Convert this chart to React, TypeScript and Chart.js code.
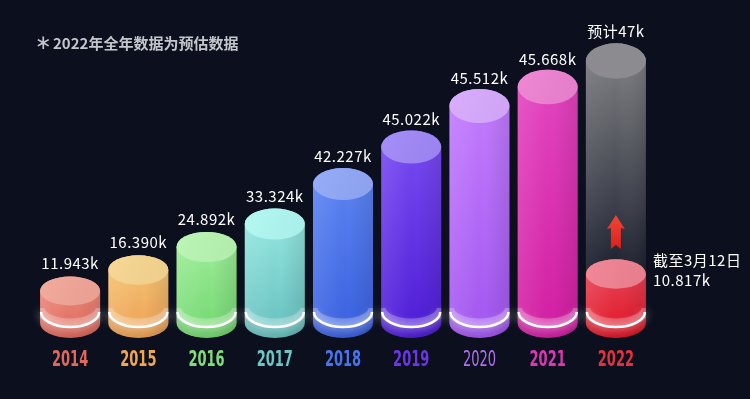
import React, { useEffect, useRef } from 'react';
import { Chart, registerables } from 'chart.js';

Chart.register(...registerables);

// ---- data ----
const years = ['2014', '2015', '2016', '2017', '2018', '2019', '2020', '2021', '2022'];
// drawn column heights (chart units)
const barHeights = [32, 53, 76, 99, 139, 176, 217, 236, 49];
const estimateHeights = [null, null, null, null, null, null, null, null, 262];
const valueLabels = ['11.943k', '16.390k', '24.892k', '33.324k', '42.227k', '45.022k', '45.512k', '45.668k', '10.817k'];
const estimateLabel = '预计47k';
const cutoffLabel = '截至3月12日';
const titleText = '2022年全年数据为预估数据';
const titleStar = '∗';

// ---- styles ----
const yearColors = ['#e2685c', '#f0a850', '#7ede7c', '#6cc6c4', '#4a74ee', '#6a36e6', '#b070f0', '#e036b6', '#e6303e'];
const topColors = ['#f2a698', '#f8d690', '#b8f6b2', '#b0f8f2', '#92a8f8', '#a088f8', '#d8aaff', '#ee82d2', '#f08292'];
const bodyTopColors = ['#ee9484', '#f6c97a', '#a2ef9c', '#98eae4', '#5e86f4', '#7a4cf4', '#c47eff', '#e446c2', '#ea4a5c'];
const bodyBottomColors = ['#e0665a', '#eea052', '#72d870', '#66c0be', '#3a60e0', '#4e1cd6', '#a256f0', '#d21ea2', '#e01426'];

const BG = '#0b0f1e';

function bodyPath(x: number, yTop: number, base: number, rx: number, ryT: number, ryB: number) {
  const p = new Path2D();
  p.moveTo(x - rx, yTop);
  p.lineTo(x - rx, base);
  p.ellipse(x, base, rx, ryB, 0, Math.PI, 0, true);
  p.lineTo(x + rx, yTop);
  p.ellipse(x, yTop, rx, ryT, 0, 0, Math.PI, true);
  p.closePath();
  return p;
}

function drawCylinder(ctx: CanvasRenderingContext2D, el: any, i: number) {
  const x = el.x, yTop = el.y, base = el.base, w = el.width;
  const rx = w / 2;
  const ryB = w * 0.25;
  const h = base - yTop;
  const ryT = 14 + h * 0.014;
  const body = bodyPath(x, yTop, base, rx, ryT, ryB);
  ctx.save();
  const g = ctx.createLinearGradient(0, yTop - ryT, 0, base + ryB);
  g.addColorStop(0, bodyTopColors[i]);
  g.addColorStop(1, bodyBottomColors[i]);
  ctx.fillStyle = g;
  ctx.fill(body);
  const hg = ctx.createLinearGradient(x - rx, 0, x + rx, 0);
  hg.addColorStop(0, 'rgba(255,255,255,0.10)');
  hg.addColorStop(0.35, 'rgba(255,255,255,0.03)');
  hg.addColorStop(0.6, 'rgba(0,0,0,0)');
  hg.addColorStop(1, 'rgba(0,0,0,0.10)');
  ctx.fillStyle = hg;
  ctx.fill(body);

  // glow ring near the bottom
  const yR = base - 11;
  ctx.save();
  ctx.clip(body);
  ctx.beginPath();
  ctx.ellipse(x, yR - 4, rx, ryB, 0, 0, Math.PI, false);
  ctx.strokeStyle = 'rgba(255,255,255,0.24)';
  ctx.lineWidth = 9;
  ctx.stroke();
  ctx.beginPath();
  ctx.ellipse(x, yR + 6, rx, ryB, 0, 0, Math.PI, false);
  ctx.strokeStyle = 'rgba(0,0,0,0.08)';
  ctx.lineWidth = 10;
  ctx.stroke();
  ctx.restore();
  ctx.beginPath();
  ctx.ellipse(x, yR, rx - 1, ryB, 0, 0, Math.PI, false);
  ctx.strokeStyle = '#ffffff';
  ctx.lineWidth = 2.5;
  ctx.shadowColor = 'rgba(255,255,255,0.9)';
  ctx.shadowBlur = 8;
  ctx.stroke();
  ctx.shadowBlur = 0;

  // top face
  ctx.beginPath();
  ctx.ellipse(x, yTop, rx, ryT, 0, 0, Math.PI * 2);
  ctx.fillStyle = topColors[i];
  ctx.fill();
  const tg = ctx.createLinearGradient(x - rx, yTop - ryT, x + rx, yTop + ryT);
  tg.addColorStop(0, 'rgba(255,255,255,0.06)');
  tg.addColorStop(1, 'rgba(0,0,0,0.04)');
  ctx.fillStyle = tg;
  ctx.fill();
  ctx.restore();
}

function drawEstimate(ctx: CanvasRenderingContext2D, el: any) {
  const x = el.x, yTop = el.y, base = el.base, w = el.width;
  const rx = w / 2;
  const ryB = w * 0.25;
  const h = base - yTop;
  const ryT = 14 + h * 0.014;
  const body = bodyPath(x, yTop, base, rx, ryT, ryB);
  ctx.save();
  const g = ctx.createLinearGradient(0, yTop, 0, base);
  g.addColorStop(0, 'rgba(126,127,132,0.97)');
  g.addColorStop(0.28, 'rgba(100,102,108,0.9)');
  g.addColorStop(0.55, 'rgba(72,75,86,0.8)');
  g.addColorStop(0.75, 'rgba(44,48,60,0.7)');
  g.addColorStop(1, 'rgba(26,30,44,0.5)');
  ctx.fillStyle = g;
  ctx.fill(body);
  const hg = ctx.createLinearGradient(x - rx, 0, x + rx, 0);
  hg.addColorStop(0, 'rgba(255,255,255,0.06)');
  hg.addColorStop(0.5, 'rgba(255,255,255,0)');
  hg.addColorStop(1, 'rgba(0,0,0,0.10)');
  ctx.fillStyle = hg;
  ctx.fill(body);
  ctx.beginPath();
  ctx.ellipse(x, yTop, rx, ryT, 0, 0, Math.PI * 2);
  ctx.fillStyle = '#8c8c90';
  ctx.fill();
  ctx.restore();
}

function drawArrow(ctx: CanvasRenderingContext2D, x: number, tip: number, bottom: number) {
  ctx.save();
  const g = ctx.createLinearGradient(0, tip, 0, bottom);
  g.addColorStop(0, '#f24634');
  g.addColorStop(1, '#d8201e');
  ctx.fillStyle = g;
  ctx.beginPath();
  ctx.moveTo(x, tip);
  ctx.quadraticCurveTo(x + 5, tip + 8, x + 9, tip + 14);
  ctx.lineTo(x + 5, tip + 13);
  ctx.lineTo(x + 5, bottom);
  ctx.lineTo(x, bottom - 4);
  ctx.lineTo(x - 5, bottom);
  ctx.lineTo(x - 5, tip + 13);
  ctx.lineTo(x - 9, tip + 14);
  ctx.quadraticCurveTo(x - 5, tip + 8, x, tip);
  ctx.closePath();
  ctx.fill();
  ctx.restore();
}

const cylinderPlugin = {
  id: 'cylinders',
  beforeDraw(chart: any) {
    const ctx = chart.ctx;
    ctx.save();
    ctx.fillStyle = BG;
    ctx.fillRect(0, 0, chart.width, chart.height);
    ctx.restore();
  },
  afterDatasetsDraw(chart: any) {
    const ctx: CanvasRenderingContext2D = chart.ctx;
    const main = chart.getDatasetMeta(0);
    const est = chart.getDatasetMeta(1);
    est.data.forEach((el: any, i: number) => {
      if (estimateHeights[i] == null) return;
      drawEstimate(ctx, el);
    });
    main.data.forEach((el: any, i: number) => drawCylinder(ctx, el, i));

    ctx.save();
    ctx.fillStyle = '#ffffff';
    ctx.font = '15px "Noto Sans CJK SC", "Noto Sans", sans-serif';
    (ctx as any).letterSpacing = '0.5px';
    ctx.textBaseline = 'middle';
    const last = years.length - 1;
    main.data.forEach((el: any, i: number) => {
      if (i === last) return;
      ctx.textAlign = 'center';
      ctx.fillText(valueLabels[i], el.x, el.y - 28);
    });
    // 2022: estimate label, cut-off labels and arrow
    const e = est.data[last];
    ctx.textAlign = 'center';
    ctx.fillText(estimateLabel, e.x, e.y - 30);
    const m = main.data[last];
    ctx.textAlign = 'left';
    ctx.fillText(cutoffLabel, m.x + m.width / 2 + 7, m.y - 14);
    ctx.fillText(valueLabels[last], m.x + m.width / 2 + 7, m.y + 6);
    drawArrow(ctx, m.x, m.y - 59, m.y - 25);

    // title
    ctx.fillStyle = '#c4c6cc';
    ctx.textAlign = 'left';
    (ctx as any).letterSpacing = '0px';
    ctx.font = '20px "DejaVu Sans", sans-serif';
    ctx.fillText(titleStar, 35, 44);
    ctx.font = 'bold 15px "Noto Sans CJK SC", sans-serif';
    ctx.fillText(titleText, 53, 43);
    ctx.restore();

    // category labels, placed through the x scale (condensed face)
    const xs = chart.scales.x;
    ctx.save();
    ctx.textAlign = 'center';
    ctx.textBaseline = 'middle';
    years.forEach((yr, i) => {
      const px = xs.getPixelForValue(i);
      ctx.save();
      ctx.translate(px, 361);
      ctx.scale(0.62, 1);
      ctx.font = (i === 6 ? '' : 'bold ') + '21px "DejaVu Sans", sans-serif';
      ctx.fillStyle = yearColors[i];
      ctx.fillText(yr, 0, 0);
      ctx.restore();
    });
    ctx.restore();
  },
};

export default function App() {
  const ref = useRef<HTMLCanvasElement>(null);
  useEffect(() => {
    document.body.style.margin = '0';
    document.body.style.background = BG;
    const chart = new Chart(ref.current!, {
      type: 'bar',
      data: {
        labels: years,
        datasets: [
          {
            label: 'actual',
            data: barHeights,
            backgroundColor: 'rgba(0,0,0,0)',
            borderWidth: 0,
            grouped: false,
            barPercentage: 0.88,
            categoryPercentage: 1,
          },
          {
            label: 'estimate',
            data: estimateHeights as any,
            backgroundColor: 'rgba(0,0,0,0)',
            borderWidth: 0,
            grouped: false,
            barPercentage: 0.88,
            categoryPercentage: 1,
          },
        ],
      },
      options: {
        animation: false,
        responsive: true,
        maintainAspectRatio: false,
        layout: { padding: { left: 36, right: 100, top: 23, bottom: 76 } },
        plugins: { legend: { display: false }, tooltip: { enabled: false }, title: { display: false } },
        scales: {
          x: {
            grid: { display: false, drawTicks: false },
            border: { display: false },
            ticks: { display: false },
          },
          y: { display: false, min: 0, max: 300 },
        },
      },
      plugins: [cylinderPlugin],
    });
    return () => chart.destroy();
  }, []);
  return (
    <div style={{ width: 750, height: 399, position: 'relative', background: BG }}>
      <canvas ref={ref} />
    </div>
  );
}
